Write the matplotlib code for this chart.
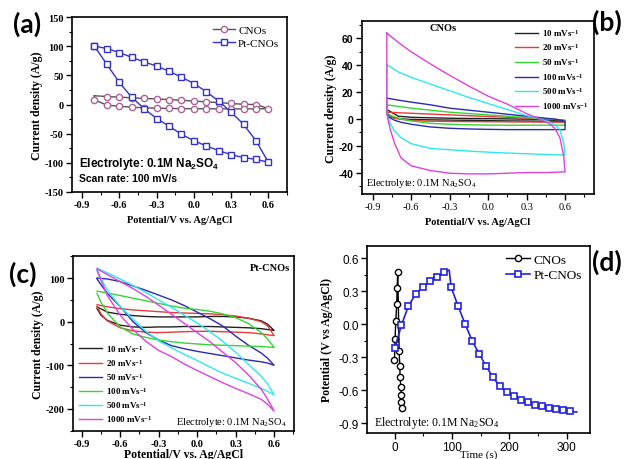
import numpy as np
import matplotlib
matplotlib.use("Agg")
import matplotlib.pyplot as plt
from matplotlib.ticker import MultipleLocator

plt.rcParams['font.family'] = ['Liberation Serif', 'DejaVu Serif']
plt.rcParams['mathtext.default'] = 'regular'
plt.rcParams['axes.unicode_minus'] = False

# ---- (a) CV at 100 mV/s, CNOs vs Pt-CNOs ----
a_E_fwd = [-0.8, -0.7, -0.6, -0.5, -0.4, -0.3, -0.2, -0.1, 0.0, 0.1, 0.2, 0.3, 0.4, 0.5, 0.6]
a_E_rev = [0.5, 0.4, 0.3, 0.2, 0.1, 0.0, -0.1, -0.2, -0.3, -0.4, -0.5, -0.6, -0.7, -0.8]
a_cno_fwd = [15, 13.7, 12.6, 11.5, 10.5, 9.5, 8.4, 7.2, 5.8, 4.6, 3.2, 1.8, 0.3, 0.0, -7]
a_cno_rev = [-7.5, -7.5, -7.5, -7.4, -7.3, -7.2, -7, -6.8, -6.3, -5.7, -4.6, -3, -1, 8]
a_pt_fwd = [100, 96, 89, 81, 73, 66, 57, 47, 36, 22, 6, -13, -34, -62, -99]
a_pt_rev = [-94, -91, -86, -79, -71, -62, -51, -37, -24, -7, 12.6, 38, 69, 100]

# ---- (b) CNOs at several scan rates (forward then reverse sweep) ----
b_E_fwd = [-0.79, -0.7, -0.6, -0.45, -0.3, -0.15, 0.0, 0.15, 0.3, 0.4, 0.47, 0.52, 0.56, 0.59, 0.6]
b_E_rev = [0.6, 0.45, 0.3, 0.15, 0.0, -0.15, -0.3, -0.45, -0.6, -0.68, -0.73, -0.76, -0.78, -0.79, -0.79]
b_j10 = [7, 2, 1.2, 0.8, 0.5, 0.3, 0.2, 0, -0.2, -0.3, -0.5, -0.7, -0.9, -1.1, -1.2,
         -1.8, -1.7, -1.6, -1.5, -1.3, -1.1, -0.9, -0.7, -0.4, 0, 0.8, 1.8, 3, 4, 7]
b_j20 = [5, 4.6, 4.2, 3.6, 3.0, 2.4, 1.8, 1.2, 0.6, 0.2, -0.1, -0.4, -0.7, -1.2, -1.5,
         -2.5, -2.4, -2.3, -2.2, -2.1, -2.0, -1.9, -1.7, -1.2, -0.3, 0.5, 1.5, 2.5, 3.5, 5]
b_j50 = [10.5, 9.3, 8, 6.5, 5, 4, 3, 2, 1, 0.5, 0, -0.3, -0.6, -0.9, -1,
         -4.7, -4.7, -4.7, -4.7, -4.6, -4.4, -4, -3.3, -1.5, 0, 1.5, 2.5, 4, 5, 10.5]
b_j100 = [15.5, 14, 12.5, 10.5, 8, 6.5, 5, 3.5, 2, 1, 0.3, -0.2, -0.8, -1.5, -2,
          -8, -8, -8, -8, -7.8, -7.5, -7, -6, -4, -2.5, -1, 0.5, 2, 4, 15.5]
b_j500 = [40.5, 35, 31, 26, 21, 16, 11.5, 7, 2.5, 0, -2, -4.5, -8, -18, -26.5,
          -27, -26.5, -26, -25.5, -24.8, -24, -23, -22, -18.5, -14, -9, -4, 1, 5, 40.5]
b_j1000 = [64, 57, 50, 41, 32.5, 24.5, 17, 11, 4, 0, -3, -7, -14, -28, -39,
           -39.5, -40, -40, -40.5, -41, -41, -40.5, -38.5, -35, -29, -18, -9, -1, 5, 64]

# ---- (c) Pt-CNOs at several scan rates ----
c_E_fwd = [-0.78, -0.7, -0.6, -0.5, -0.4, -0.3, -0.2, -0.1, 0.0, 0.1, 0.2, 0.3, 0.4, 0.5, 0.55, 0.6]
c_E_rev = [0.55, 0.5, 0.4, 0.3, 0.2, 0.1, 0.0, -0.1, -0.2, -0.3, -0.4, -0.5, -0.6, -0.7, -0.75, -0.78]
c_j10 = [34, 22, 17, 14, 12, 11, 11, 11, 11, 12, 12, 11, 8, 2, -6, -20,
         -18, -16, -14, -13, -12, -11, -11, -11, -12, -12, -13, -12, -8, 3, 15, 30]
c_j20 = [39, 34, 30, 27, 25, 23, 21, 20, 19, 18, 16, 13, 8, 0, -10, -32,
         -30, -28, -25, -24, -23, -22, -22, -23, -24, -25, -24, -21, -14, 2, 18, 35]
c_j50 = [100, 98, 92, 82, 72, 61, 50, 37, 22, 7, -10, -33, -54, -72, -84, -100,
         -95, -92, -88, -83, -78, -73, -68, -62, -55, -42, -25, 0, 35, 65, 85, 98]
c_j100 = [70, 66, 60, 54, 48, 42, 36, 31, 28, 24, 18, 9, -4, -25, -40, -59,
          -58, -57, -56, -55, -54, -53, -51, -49, -46, -42, -36, -28, -12, 20, 45, 65]
c_j500 = [123, 112, 98, 83, 67, 50, 33, 15, -3, -23, -45, -70, -98, -125, -143, -168,
          -160, -153, -141, -130, -118, -104, -89, -75, -60, -44, -22, 5, 35, 72, 100, 118]
c_j1000 = [121, 108, 92, 76, 58, 38, 17, -4, -25, -46, -70, -94, -122, -155, -178, -205,
           -190, -178, -165, -153, -140, -126, -112, -97, -80, -66, -45, -18, 15, 60, 95, 118]

rate_labels = ['10', '20', '50', '100', '500', '1000']

# ---- (d) galvanostatic charge/discharge ----
d_cno_t = [-0.6, 0.6, 1.7, 3.4, 4.1, 5.2, 7.6, 8.7, 9.3, 10.5, 11.1, 11.6, 12.2]
d_cno_V = [-0.33, -0.13, 0.03, 0.18, 0.33, 0.48, -0.245, -0.376, -0.482, -0.574, -0.647, -0.711, -0.766]
d_pt_t = [0, 11.7, 23.9, 36.7, 49.5, 61.8, 74, 86.2, 95, 98.5, 110.7, 123, 135, 147.4, 159,
          171, 183.5, 195.7, 208, 220, 232.4, 244.6, 256.8, 269, 281, 293.5, 305.8, 318]
d_pt_V = [-0.218, -0.006, 0.167, 0.276, 0.342, 0.391, 0.43, 0.473, 0.494, 0.336, 0.164, 0.0,
          -0.148, -0.27, -0.376, -0.479, -0.565, -0.62, -0.656, -0.687, -0.711, -0.732, -0.748,
          -0.763, -0.772, -0.781, -0.793, -0.80]

W, H = 628, 460
fig = plt.figure(figsize=(W / 100, H / 100), dpi=100)


def box(l, t, r, b):
    # pixel box -> figure fraction
    return [l / W, 1 - b / H, (r - l) / W, (b - t) / H]


def style(ax, xmaj, xmin, ymaj, ymin):
    ax.xaxis.set_major_locator(MultipleLocator(xmaj))
    ax.xaxis.set_minor_locator(MultipleLocator(xmin))
    ax.yaxis.set_major_locator(MultipleLocator(ymaj))
    ax.yaxis.set_minor_locator(MultipleLocator(ymin))
    ax.tick_params(which='both', direction='out', top=False, right=False, pad=2)
    ax.tick_params(which='major', length=4, width=1)
    ax.tick_params(which='minor', length=2, width=0.8)
    for s in ax.spines.values():
        s.set_linewidth(1.2)


xlab_font = dict(fontsize=7.5, fontweight='bold')
ylab_font = dict(fontsize=8.5, fontweight='bold')
xfmt = lambda v, p: f"{v:.1f}"

# (a)
ax = fig.add_axes(box(72, 18, 287, 193))
ax.plot(a_E_fwd + a_E_rev + [a_E_fwd[0]], a_cno_fwd + a_cno_rev + [a_cno_fwd[0]],
        color='#555555', lw=1, marker='o', ms=4.5, mfc='white', mec='#b0609a', mew=1,
        markevery=list(range(1, 29)), label='CNOs')
ax.plot(a_E_fwd + a_E_rev, a_pt_fwd + a_pt_rev, color='#3333cc', lw=1, marker='s', ms=4,
        mfc='white', mec='#3333cc', mew=1, label='Pt-CNOs')
ax.set_xlim(-0.98, 0.75)
ax.set_ylim(-150, 150)
style(ax, 0.3, 0.15, 50, 25)
ax.xaxis.set_major_formatter(xfmt)
ax.set_xlabel('Potential/V vs. Ag/AgCl', **xlab_font)
ax.set_ylabel('Current density (A/g)', labelpad=1, **ylab_font)
plt.setp(ax.get_xticklabels() + ax.get_yticklabels(), fontsize=7.5, fontweight='bold')
ax.legend(loc='upper right', frameon=False, fontsize=8, handlelength=2, borderaxespad=0.3,
          labelspacing=0.3, handletextpad=0.3)
ax.text(0.033, 0.166, 'Electrolyte: 0.1M Na$_2$SO$_4$', transform=ax.transAxes,
        family='Liberation Sans', fontsize=8.5, fontweight='bold', va='center')
ax.text(0.033, 0.08, 'Scan rate: 100 mV/s', transform=ax.transAxes,
        family='Liberation Sans', fontsize=7.5, fontweight='bold', va='center')

# (b)
b_colors = ['#222222', '#e83a3a', '#33d633', '#2b2bb0', '#2ee8f0', '#e040e0']
ax = fig.add_axes(box(361.7, 22, 594, 195))
for j, c, r in zip([b_j10, b_j20, b_j50, b_j100, b_j500, b_j1000], b_colors, rate_labels):
    ax.plot(b_E_fwd + b_E_rev, j, color=c, lw=1, label=f'{r} mVs$^{{-1}}$')
ax.set_xlim(-0.986, 0.826)
ax.set_ylim(-56, 73)
style(ax, 0.3, 0.15, 20, 10)
ax.xaxis.set_major_formatter(xfmt)
ax.set_xlabel('Potential/V vs. Ag/AgCl', **xlab_font)
ax.set_ylabel('Current density (A/g)', labelpad=1, **ylab_font)
plt.setp(ax.get_xticklabels(), fontsize=7.5)
plt.setp(ax.get_yticklabels(), fontsize=7.5, fontweight='bold', family='Liberation Sans')
ax.legend(loc='upper right', frameon=False, prop=dict(size=6.5, weight='bold'),
          handlelength=2.6, borderaxespad=0.25, labelspacing=0.4, handletextpad=0.4)
ax.text(0.35, 0.965, 'CNOs', transform=ax.transAxes, fontsize=7.5, fontweight='bold',
        ha='center', va='center')
ax.text(0.02, 0.064, 'Electrolyte: 0.1M Na$_2$SO$_4$', transform=ax.transAxes,
        fontsize=7.5, va='center')

# (c)
c_colors = ['#222222', '#e83a3a', '#2b2bb0', '#33d633', '#2ee8f0', '#e040e0']
ax = fig.add_axes(box(72.7, 257.3, 294, 431.7))
for j, c, r in zip([c_j10, c_j20, c_j50, c_j100, c_j500, c_j1000], c_colors, rate_labels):
    ax.plot(c_E_fwd + c_E_rev, j, color=c, lw=1, label=f'{r} mVs$^{{-1}}$')
ax.set_xlim(-0.97, 0.755)
ax.set_ylim(-250, 150)
style(ax, 0.3, 0.15, 100, 50)
ax.xaxis.set_major_formatter(xfmt)
ax.set_xlabel('Potential/V vs. Ag/AgCl', fontsize=8.5, fontweight='bold', labelpad=0)
ax.set_ylabel('Current density (A/g)', labelpad=1, **ylab_font)
plt.setp(ax.get_xticklabels() + ax.get_yticklabels(), fontsize=7.5, fontweight='bold')
ax.legend(loc='lower left', frameon=False, prop=dict(size=6.5, weight='bold'),
          handlelength=2.6, borderaxespad=0.3, labelspacing=0.35, handletextpad=0.4)
ax.text(0.982, 0.937, 'Pt-CNOs', transform=ax.transAxes, fontsize=7.5, fontweight='bold',
        ha='right', va='center')
ax.text(0.965, 0.054, 'Electrolyte: 0.1M Na$_2$SO$_4$', transform=ax.transAxes,
        fontsize=7.5, ha='right', va='center')

# (d)
ax = fig.add_axes(box(367.3, 246.7, 590, 434))
ax.plot(d_cno_t, d_cno_V, color='black', lw=1, marker='o', ms=4.5, mfc='white',
        mec='black', mew=1, label='CNOs')
ax.plot(d_pt_t, d_pt_V, color='#2222dd', lw=1.2, marker='s', ms=5, mfc='white',
        mec='#2222dd', mew=1.2, markevery=[i for i in range(len(d_pt_t)) if i not in (8, 27)],
        label='Pt-CNOs')
ax.set_xlim(-48, 341)
ax.set_ylim(-0.99, 0.715)
style(ax, 100, 50, 0.3, 0.15)
ax.yaxis.set_major_formatter(xfmt)
ax.set_xlabel('Time (s)', fontsize=8, labelpad=-2.5)
ax.set_ylabel('Potential (V vs Ag/AgCl)', **ylab_font)
plt.setp(ax.get_xticklabels() + ax.get_yticklabels(), fontsize=8.5, family='Liberation Sans')
ax.legend(loc='upper right', frameon=False, fontsize=9.5, handlelength=1.8, borderaxespad=0.2,
          labelspacing=0.25, handletextpad=0.3)
ax.text(0.031, 0.057, 'Electrolyte: 0.1M Na$_2$SO$_4$', transform=ax.transAxes,
        fontsize=8.5, va='center')

# panel letters
for s, x, y in [('(a)', 27, 24), ('(b)', 607, 22), ('(c)', 23, 274), ('(d)', 607, 262)]:
    fig.text(x / W, 1 - y / H, s, fontsize=19, family='Lato', fontweight='bold',
             ha='center', va='center')

fig.savefig('out.png', dpi=100)
